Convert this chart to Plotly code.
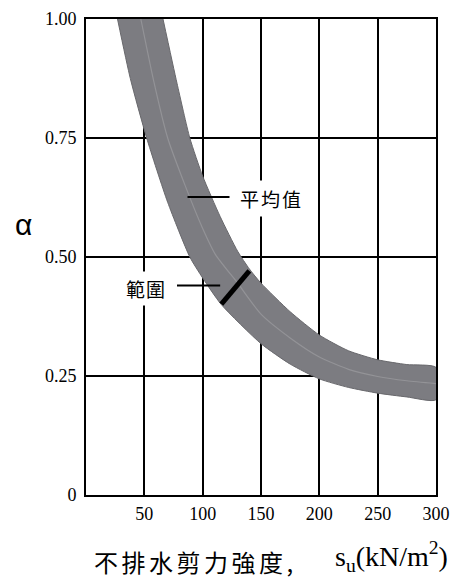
import plotly.graph_objects as go

# Upper (right) edge of the band
su_upper = [66, 78, 89, 100, 115, 130, 140, 150, 175, 200, 225, 250, 275, 300]
alpha_upper = [1.00, 0.865, 0.75, 0.67, 0.585, 0.512, 0.475, 0.445, 0.385, 0.336, 0.303, 0.284, 0.274, 0.268]

# Lower (left) edge of the band
su_lower = [27, 38, 52, 70, 89, 100, 116, 150, 175, 200, 225, 250, 275, 300]
alpha_lower = [1.00, 0.875, 0.75, 0.615, 0.50, 0.456, 0.40, 0.318, 0.275, 0.244, 0.226, 0.214, 0.206, 0.20]

# Mean curve
su_mean = [47, 58, 70, 85, 100, 111, 130, 150, 175, 200, 225, 250, 275, 300]
alpha_mean = [1.00, 0.87, 0.75, 0.65, 0.56, 0.505, 0.445, 0.38, 0.33, 0.29, 0.264, 0.249, 0.24, 0.234]

x_ticks = [50, 100, 150, 200, 250, 300]
y_ticks = [0, 0.25, 0.5, 0.75, 1.0]
y_ticktext = ["0", "0.25", "0.50", "0.75", "1.00"]

# Annotation marks (data coords)
mean_label = "平均值"
range_label = "範圍"
mean_leader_x = [87, 123]
mean_leader_y = 0.626
range_leader_x = [78, 115]
range_leader_y = 0.44
range_bar_x = [116, 140]
range_bar_y = [0.401, 0.471]

fig = go.Figure()

band_x = su_upper + su_lower[::-1]
band_y = alpha_upper + alpha_lower[::-1]
fig.add_trace(go.Scatter(
    x=band_x, y=band_y, mode="lines", fill="toself",
    fillcolor="#7c7c81", line=dict(color="#68686c", width=1, shape="spline", smoothing=0.6),
    hoverinfo="skip", showlegend=False,
))
fig.add_trace(go.Scatter(
    x=su_mean, y=alpha_mean, mode="lines",
    line=dict(color="#939397", width=1.2, shape="spline", smoothing=0.6),
    hoverinfo="skip", showlegend=False,
))

serif = "Liberation Serif, Times New Roman, serif"
cjk = "Noto Sans CJK TC, Noto Sans CJK SC, sans-serif"

fig.update_layout(
    width=453, height=578,
    margin=dict(l=86, r=17, t=19, b=83, autoexpand=False),
    paper_bgcolor="white", plot_bgcolor="white",
    xaxis=dict(
        range=[0, 300], tickvals=x_ticks, showgrid=True, gridcolor="black", gridwidth=2,
        showline=True, linecolor="black", linewidth=2, mirror=True, zeroline=False,
        ticks="", ticklabelstandoff=1, layer="above traces",
        tickfont=dict(family=serif, size=18, color="black"),
    ),
    yaxis=dict(
        range=[0, 1], tickvals=y_ticks, ticktext=y_ticktext, showgrid=True,
        gridcolor="black", gridwidth=2,
        showline=True, linecolor="black", linewidth=2, mirror=True, zeroline=False,
        ticks="", ticklabelstandoff=4, layer="above traces",
        tickfont=dict(family=serif, size=18, color="black"),
    ),
)

# leader lines and range bar
fig.add_shape(type="line", xref="x", yref="y", x0=mean_leader_x[0], x1=mean_leader_x[1],
              y0=mean_leader_y, y1=mean_leader_y, line=dict(color="black", width=2), layer="above")
fig.add_shape(type="line", xref="x", yref="y", x0=range_leader_x[0], x1=range_leader_x[1],
              y0=range_leader_y, y1=range_leader_y, line=dict(color="black", width=2), layer="above")
fig.add_shape(type="line", xref="x", yref="y", x0=range_bar_x[0], x1=range_bar_x[1],
              y0=range_bar_y[0], y1=range_bar_y[1], line=dict(color="black", width=5), layer="above")

fig.add_annotation(x=158.6, y=0.622, xref="x", yref="y",
                   text='<span style="letter-spacing:2px">' + mean_label + '</span>', showarrow=False,
                   font=dict(family=cjk, size=19, color="black"), bgcolor="white", borderpad=4)
fig.add_annotation(x=51.4, y=0.434, xref="x", yref="y",
                   text='<span style="letter-spacing:1px">' + range_label + '</span>', showarrow=False,
                   font=dict(family=cjk, size=19, color="black"), bgcolor="white", borderpad=3)

fig.add_annotation(x=-0.18, y=0.569, xref="paper", yref="paper", text="α", showarrow=False,
                   font=dict(family="Liberation Sans, Arial, sans-serif", size=30, color="black"),
                   xanchor="center", yanchor="middle")
fig.add_annotation(x=0.017, y=-0.139, xref="paper", yref="paper",
                   text='<span style="letter-spacing:3.5px">不排水剪力強度,</span>', showarrow=False,
                   font=dict(family=cjk, size=24, color="black"),
                   xanchor="left", yanchor="middle")
fig.add_annotation(x=1.04, y=-0.13, xref="paper", yref="paper",
                   text="s<sub>u</sub>(kN/m<sup>2</sup>)", showarrow=False,
                   font=dict(family=serif, size=28, color="black"),
                   xanchor="right", yanchor="middle")

fig.write_html("out.html", config={"displayModeBar": False},
               post_script="document.body.style.margin='0';document.body.style.overflow='hidden';")
